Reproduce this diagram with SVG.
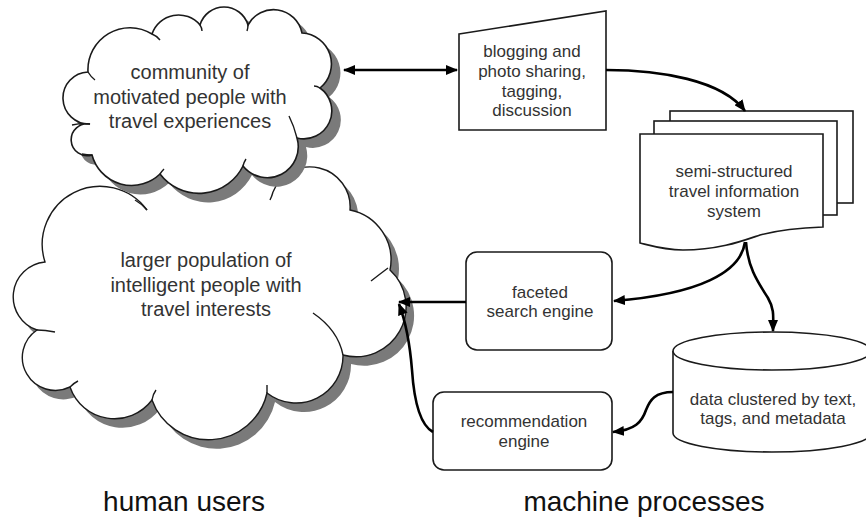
<svg xmlns="http://www.w3.org/2000/svg" width="866" height="517" viewBox="0 0 866 517">
<style>
.nd{fill:#fff;stroke:#1a1a1a;stroke-width:1.6}
.sh{fill:#7a7a7a;stroke:none}
.tk{fill:none;stroke:#1a1a1a;stroke-width:1.4}
.cn{fill:none;stroke:#000;stroke-width:2.6}
.t{font-family:"Liberation Sans",Arial,sans-serif;fill:#333;text-anchor:middle}
.t20{font-size:20px}
.t17{font-size:17px}
.lb{font-family:"Liberation Sans",Arial,sans-serif;font-size:28px;fill:#111;text-anchor:middle}
</style>
<defs>
<marker id="ah" viewBox="0 0 12 10" refX="11" refY="5" markerWidth="12" markerHeight="10" markerUnits="userSpaceOnUse" orient="auto-start-reverse">
<path d="M0,0 L12,5 L0,10 Z" fill="#000"/>
</marker>
</defs>

<g id="cloud-large">
<path class="sh" transform="translate(8,9)" d="M37,330 A35,35 0 0 1 45,262 A58,58 0 0 1 145,208 A77,77 0 0 1 273,192 A40,40 0 0 1 350,210 A51,51 0 0 1 390,270 A50,50 0 0 1 343,355 A47,47 0 0 1 267,393 A60,60 0 0 1 152,400 A47,47 0 0 1 70,387 A33,33 0 0 1 37,330 Z"/>
<path d="M37,330 A35,35 0 0 1 45,262 A58,58 0 0 1 145,208 A77,77 0 0 1 273,192 A40,40 0 0 1 350,210 A51,51 0 0 1 390,270 A50,50 0 0 1 343,355 A47,47 0 0 1 267,393 A60,60 0 0 1 152,400 A47,47 0 0 1 70,387 A33,33 0 0 1 37,330 Z" fill="#fff"/>
<path class="tk" d="M273,192 A40,40 0 0 1 350,210 A51,51 0 0 1 390,270 A50,50 0 0 1 343,355 A47,47 0 0 1 267,393 A60,60 0 0 1 152,400 A47,47 0 0 1 70,387 A33,33 0 0 1 37,330 A35,35 0 0 1 45,262 A58,58 0 0 1 147,210"/>
<path class="tk" d="M37,330 q8,0 18,2 M147,210 q-5,-6 -12,-10 M273,192 q-1,4 -3,8 M388,268 q-8,6 -17,13 M343,355 q-5,-25 -30,-42 M267,393 q0,-4 0,-8 M152,400 q1,-6 4,-10 M70,387 q4,-4 8,-6"/>
<text class="t t20" x="206" y="267">larger population of</text>
<text class="t t20" x="206" y="292">intelligent people with</text>
<text class="t t20" x="206" y="316">travel interests</text>
</g>

<g id="cloud-community">
<path class="sh" transform="translate(9,9)" d="M90,124 A26,26 0 0 1 88,72 A42,42 0 0 1 152,34 A28,28 0 0 1 200,25 A25,25 0 0 1 248,25 A29,29 0 0 1 302,33 A31,31 0 0 1 320,88 A28,28 0 0 1 297,138 A31,31 0 0 1 243,166 A49,49 0 0 1 160,174 A41,41 0 0 1 92,155 A16,16 0 1 1 90,124 Z"/>
<path class="nd" d="M90,124 A26,26 0 0 1 88,72 A42,42 0 0 1 152,34 A28,28 0 0 1 200,25 A25,25 0 0 1 248,25 A29,29 0 0 1 302,33 A31,31 0 0 1 320,88 A28,28 0 0 1 297,138 A31,31 0 0 1 243,166 A49,49 0 0 1 160,174 A41,41 0 0 1 92,155 A16,16 0 1 1 90,124 Z"/>
<path class="tk" d="M88,72 q3,5 7,8 M152,34 q5,2 8,6 M200,25 q2,3 2,6 M248,25 q0,3 -1,6 M320,88 q-3,-2 -6,-2 M297,138 q-3,-12 -8,-22 M243,166 q1,-4 3,-7 M160,174 q2,-3 4,-5 M92,155 q-5,0 -10,-1 M90,124 q-8,-1 -18,1"/>
<text class="t t20" x="190" y="79">community of</text>
<text class="t t20" x="190" y="104">motivated people with</text>
<text class="t t20" x="190" y="128">travel experiences</text>
</g>

<g id="blogging">
<path class="nd" d="M459,34 L606,11 L606,130 L459,130 Z"/>
<text class="t t17" x="532" y="57">blogging and</text>
<text class="t t17" x="532" y="77">photo sharing,</text>
<text class="t t17" x="532" y="97">tagging,</text>
<text class="t t17" x="532" y="116">discussion</text>
</g>

<g id="travel-info-system">
<rect class="nd" x="670" y="111" width="183" height="92"/>
<rect class="nd" x="654" y="121" width="183" height="94"/>
<path class="nd" d="M640,134 H823 V227 C795,228 775,231 760,235 C745,240 720,250 683,250 C665,250 652,246 640,243 Z"/>
<text class="t t17" x="734" y="177">semi-structured</text>
<text class="t t17" x="734" y="197">travel information</text>
<text class="t t17" x="734" y="217">system</text>
</g>

<g id="faceted-search">
<rect class="nd" x="466" y="252" width="146" height="98" rx="11"/>
<text class="t t17" x="540" y="298">faceted</text>
<text class="t t17" x="540" y="317">search engine</text>
</g>

<g id="recommendation">
<rect class="nd" x="433" y="392" width="179" height="78" rx="11"/>
<text class="t t17" x="524" y="427">recommendation</text>
<text class="t t17" x="524" y="447">engine</text>
</g>

<g id="data-clustered">
<path class="nd" d="M673,351 V433 A99,19 0 0 0 871,433 V351"/>
<ellipse class="nd" cx="772" cy="351" rx="99" ry="19"/>
<text class="t t17" x="773" y="405">data clustered by text,</text>
<text class="t t17" x="773" y="424">tags, and metadata</text>
</g>

<g id="connectors">
<path class="cn" d="M344,70 H457" marker-start="url(#ah)" marker-end="url(#ah)"/>
<path class="cn" d="M606,70 C660,70 722,80 745,111" marker-end="url(#ah)"/>
<path class="cn" d="M745,242 C741,272 700,294 614,301" marker-end="url(#ah)"/>
<path class="cn" d="M746,242 C748,270 760,285 768,298 C775,310 773,318 773,331" marker-end="url(#ah)"/>
<path class="cn" d="M466,302 H399" marker-end="url(#ah)"/>
<path class="cn" d="M433,432 C420,425 414,400 412,370 C410,345 405,320 399,304" marker-end="url(#ah)"/>
<path class="cn" d="M673,392 C655,392 650,400 646,410 C642,422 635,430 613,432" marker-end="url(#ah)"/>
</g>

<g id="labels">
<text class="lb" x="184" y="511">human users</text>
<text class="lb" x="644" y="511">machine processes</text>
</g>
</svg>
